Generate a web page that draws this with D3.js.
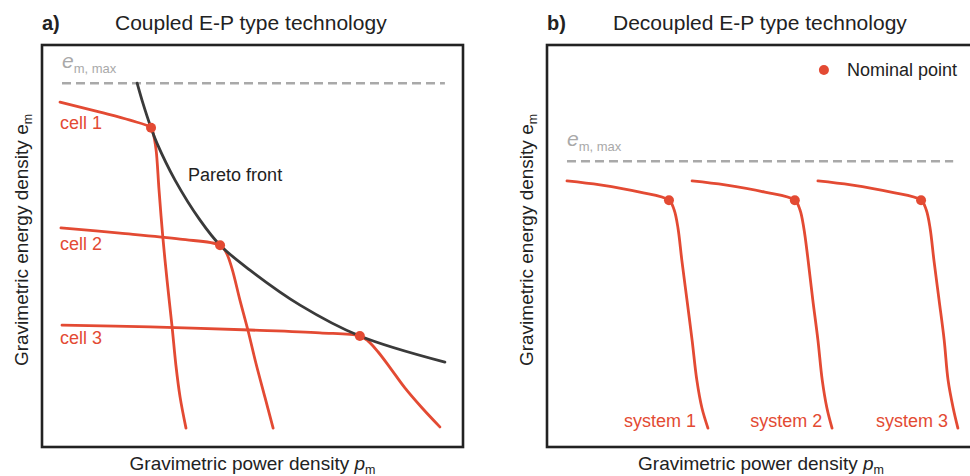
<!DOCTYPE html>
<html>
<head>
<meta charset="utf-8">
<script src="https://cdn.jsdelivr.net/npm/d3@7"></script>
<style>
  html, body { margin: 0; padding: 0; background: #fff; }
  svg { display: block; font-family: "Liberation Sans", Arial, Helvetica, sans-serif; }
</style>
</head>
<body>
<svg id="chart" width="970" height="476"></svg>
<script>
// Panel titles
const panelLetters = ["a)", "b)"];
const panelTitles = ["Coupled E-P type technology", "Decoupled E-P type technology"];

// Axis titles (same for both panels)
const xAxisTitle = ["Gravimetric power density ", "p", "m"];
const yAxisTitle = ["Gravimetric energy density ", "e", "m"];

// Upper energy density bound (normalized units 0–100)
const emaxA = { y: 90.5, x0: 4.75, x1: 95.7 };
const emaxB = { y: 71.1, x0: 4.67, x1: 94.9 };

// Panel a: Pareto front of coupled technologies
const paretoX = [22.6, 23.75, 25.9, 27.3, 31.6, 37.5, 42.3, 49.4, 61.3, 75.5, 95.7];
const paretoY = [90.5, 86.3, 79.4, 75.6, 66.4, 56.5, 50.2, 44.0, 35.3, 27.6, 21.1];

// Panel a: cell discharge curves
const cellNames = ["cell 1", "cell 2", "cell 3"];
const cell1X = [4.28, 13.8, 20.9, 25.9, 26.4, 27.1, 27.8, 28.7, 29.7, 30.9, 31.8, 32.8, 34.2];
const cell1Y = [85.8, 83.3, 81.3, 79.4, 78.1, 73.9, 63.9, 52.2, 41.5, 29.9, 20.4, 12.4, 4.7];
const cell2X = [4.5, 18.5, 32.8, 42.3, 43.7, 45.1, 47.0, 48.9, 50.8, 53.0, 54.9];
const cell2Y = [54.5, 53.2, 51.7, 50.2, 48.5, 44.5, 36.6, 29.1, 20.9, 12.2, 4.7];
const cell3X = [4.75, 25.7, 49.4, 66.0, 75.5, 77.4, 79.8, 82.7, 86.2, 90.3, 94.5];
const cell3Y = [30.3, 29.9, 29.1, 28.4, 27.6, 26.4, 23.7, 19.7, 14.7, 9.7, 5.0];
// Nominal points of the cells
const cellNominalX = [25.9, 42.3, 75.5];
const cellNominalY = [79.4, 50.2, 27.6];

// Panel b: decoupled system curves
const systemNames = ["system 1", "system 2", "system 3"];
const sys1X = [4.67, 12.4, 21.7, 28.5, 29.7, 30.6, 31.5, 32.7, 33.9, 35.0, 36.2, 37.6];
const sys2X = [33.9, 41.6, 50.9, 57.9, 59.1, 60.0, 61.0, 62.1, 63.3, 64.3, 65.4, 66.6];
const sys3X = [63.3, 71.0, 80.4, 87.4, 88.6, 89.5, 90.4, 91.6, 92.8, 93.7, 94.9, 96.0];
const sys1Y = [66.2, 65.2, 63.4, 61.4, 59.0, 54.5, 46.5, 36.6, 26.6, 16.7, 9.7, 4.7];
const sys2Y = [66.2, 65.2, 63.4, 61.4, 59.0, 54.5, 46.5, 36.6, 26.6, 16.7, 9.7, 4.7];
const sys3Y = [66.2, 65.2, 63.4, 61.4, 59.0, 54.5, 46.5, 36.6, 26.6, 16.7, 9.7, 4.7];
const systemNominalX = [28.5, 57.9, 87.4];
const systemNominalY = [61.4, 61.4, 61.4];

const legendLabel = "Nominal point";

// Styling
const RED = "#e34a33";
const DARK = "#222222";
const CURVE_DARK = "#3a3a3a";
const GREY = "#a9a9a9";
const FONT_LABEL = 18;

const svg = d3.select("#chart");

const zip = (xs, ys) => xs.map((x, i) => [x, ys[i]]);

// Scales for the two panels
const xA = d3.scaleLinear().domain([0, 100]).range([42, 463]);
const yA = d3.scaleLinear().domain([0, 100]).range([447, 45]);
const xB = d3.scaleLinear().domain([0, 100]).range([547, 975]);
const yB = d3.scaleLinear().domain([0, 100]).range([447, 45]);

function drawPanel(g, x, y, idx) {
  // frame
  g.append("rect")
    .attr("x", x(0)).attr("y", y(100))
    .attr("width", x(100) - x(0)).attr("height", y(0) - y(100))
    .attr("fill", "none").attr("stroke", DARK).attr("stroke-width", 2.6);

  // title
  const [x0] = x.range();
  g.append("text").attr("x", x0).attr("y", 30)
    .attr("font-size", 20).attr("font-weight", "bold").attr("fill", DARK)
    .text(panelLetters[idx]);
  g.append("text").attr("x", x0 + (idx === 0 ? 73 : 66)).attr("y", 30)
    .attr("font-size", 21).attr("fill", DARK)
    .text(panelTitles[idx]);

  // x axis title
  const xt = g.append("text")
    .attr("x", (x(0) + x(100)) / 2).attr("y", 470)
    .attr("text-anchor", "middle").attr("font-size", 19).attr("fill", DARK);
  xt.append("tspan").text(xAxisTitle[0]);
  xt.append("tspan").attr("font-style", "italic").text(xAxisTitle[1]);
  xt.append("tspan").attr("font-size", 12.5).attr("dy", 4).text(xAxisTitle[2]);

  // y axis title
  const yt = g.append("text")
    .attr("transform", `translate(${x(0) - 14},${y(51.5)}) rotate(-90)`)
    .attr("text-anchor", "middle").attr("font-size", 19).attr("fill", DARK);
  yt.append("tspan").text(yAxisTitle[0] + yAxisTitle[1]);
  yt.append("tspan").attr("font-size", 12.5).attr("dy", 4).text(yAxisTitle[2]);
}

function drawEmax(g, x, y, e) {
  g.append("line")
    .attr("x1", x(e.x0)).attr("x2", x(e.x1))
    .attr("y1", y(e.y)).attr("y2", y(e.y))
    .attr("stroke", GREY).attr("stroke-width", 2.6)
    .attr("stroke-dasharray", "9,5");
  const t = g.append("text")
    .attr("x", x(e.x0)).attr("y", y(e.y) - 15)
    .attr("fill", GREY);
  t.append("tspan").attr("font-size", 21).attr("font-style", "italic").text("e");
  t.append("tspan").attr("font-size", 13).attr("dy", 5).text("m, max");
}

const line = (x, y) => d3.line()
  .x(d => x(d[0])).y(d => y(d[1]))
  .curve(d3.curveCatmullRom.alpha(0.5));

function drawCurve(g, x, y, pts, color) {
  g.append("path").datum(pts)
    .attr("d", line(x, y))
    .attr("fill", "none").attr("stroke", color)
    .attr("stroke-width", 2.8)
    .attr("stroke-linecap", "round").attr("stroke-linejoin", "round");
}

function drawDots(g, x, y, xs, ys) {
  g.selectAll(null).data(zip(xs, ys)).enter().append("circle")
    .attr("cx", d => x(d[0])).attr("cy", d => y(d[1]))
    .attr("r", 5).attr("fill", RED);
}

// ----- Panel a -----
const gA = svg.append("g");
drawPanel(gA, xA, yA, 0);
drawEmax(gA, xA, yA, emaxA);

drawCurve(gA, xA, yA, zip(cell1X, cell1Y), RED);
drawCurve(gA, xA, yA, zip(cell2X, cell2Y), RED);
drawCurve(gA, xA, yA, zip(cell3X, cell3Y), RED);
drawCurve(gA, xA, yA, zip(paretoX, paretoY), CURVE_DARK);
drawDots(gA, xA, yA, cellNominalX, cellNominalY);

gA.append("text").attr("x", xA(34.7)).attr("y", yA(66.2))
  .attr("font-size", FONT_LABEL).attr("fill", DARK).text("Pareto front");

const cellLabelY = [79.1, 49.0, 25.6];
gA.selectAll(null).data(cellNames).enter().append("text")
  .attr("x", xA(4.3)).attr("y", (d, i) => yA(cellLabelY[i]))
  .attr("font-size", FONT_LABEL).attr("fill", RED).text(d => d);

// ----- Panel b -----
const gB = svg.append("g");
drawPanel(gB, xB, yB, 1);
drawEmax(gB, xB, yB, emaxB);

drawCurve(gB, xB, yB, zip(sys1X, sys1Y), RED);
drawCurve(gB, xB, yB, zip(sys2X, sys2Y), RED);
drawCurve(gB, xB, yB, zip(sys3X, sys3Y), RED);
drawDots(gB, xB, yB, systemNominalX, systemNominalY);

const systemLabelX = [34.8, 64.3, 93.7];
gB.selectAll(null).data(systemNames).enter().append("text")
  .attr("x", (d, i) => xB(systemLabelX[i])).attr("y", yB(5.0))
  .attr("text-anchor", "end")
  .attr("font-size", FONT_LABEL).attr("fill", RED).text(d => d);

// legend
gB.append("circle").attr("cx", xB(64.7)).attr("cy", yB(93.8)).attr("r", 5).attr("fill", RED);
gB.append("text").attr("x", xB(70.1)).attr("y", yB(92.3))
  .attr("font-size", FONT_LABEL).attr("fill", DARK).text(legendLabel);
</script>
</body>
</html>
